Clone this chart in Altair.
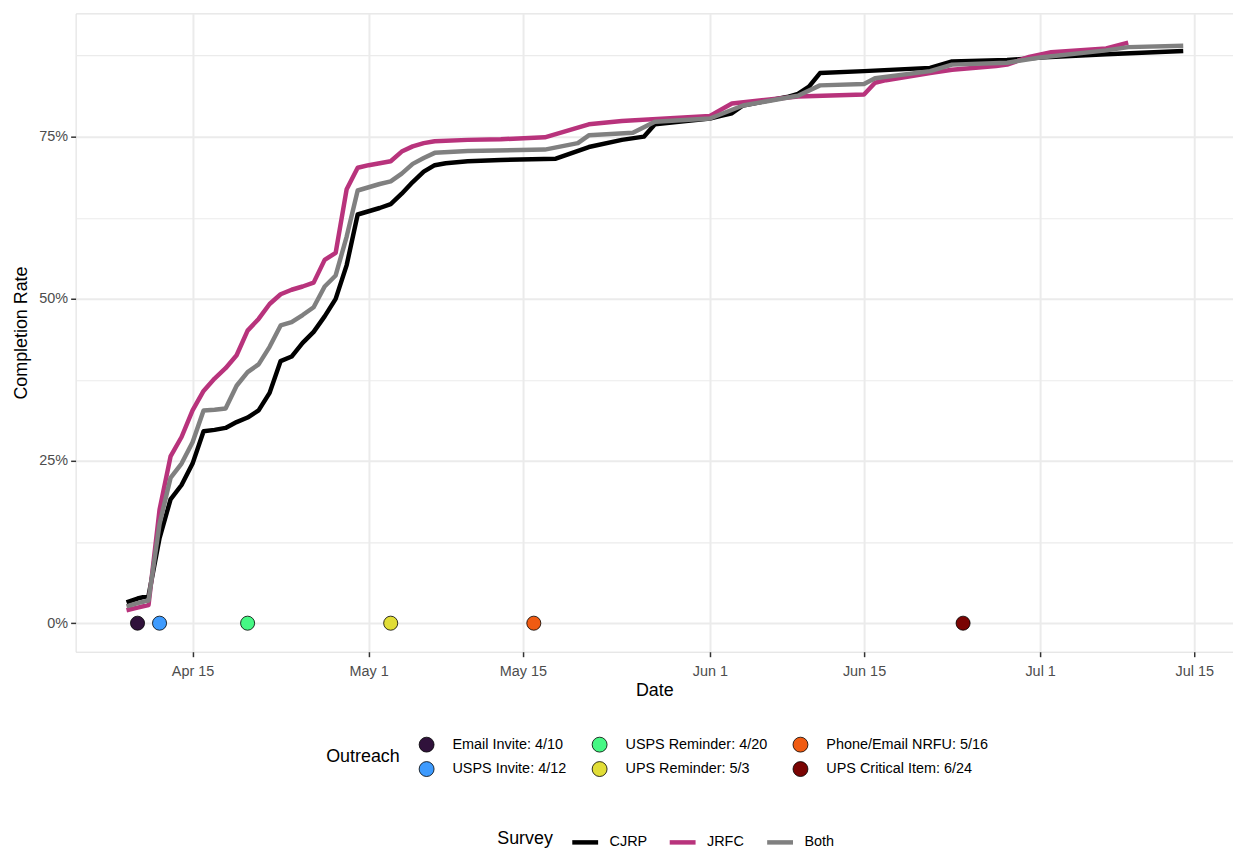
import altair as alt
import pandas as pd

# ---------------- data ----------------
cjrp_dates = ["2021-04-09", "2021-04-10", "2021-04-11", "2021-04-12", "2021-04-13", "2021-04-14",
              "2021-04-15", "2021-04-16", "2021-04-17", "2021-04-18", "2021-04-19", "2021-04-20",
              "2021-04-21", "2021-04-22", "2021-04-23", "2021-04-24", "2021-04-25", "2021-04-26",
              "2021-04-27", "2021-04-28", "2021-04-29", "2021-04-30", "2021-05-01", "2021-05-02",
              "2021-05-03", "2021-05-04", "2021-05-05", "2021-05-06", "2021-05-07", "2021-05-08",
              "2021-05-10", "2021-05-13", "2021-05-18", "2021-05-21", "2021-05-24", "2021-05-26",
              "2021-05-27", "2021-06-01", "2021-06-02", "2021-06-03", "2021-06-04", "2021-06-08",
              "2021-06-09", "2021-06-10", "2021-06-11", "2021-06-15", "2021-06-21", "2021-06-23",
              "2021-06-28", "2021-07-01", "2021-07-07", "2021-07-14"]
cjrp_vals = [3.2, 3.8, 4.2, 13.1, 19.1, 21.3,
             24.6, 29.6, 29.8, 30.1, 31.0, 31.7,
             32.8, 35.5, 40.4, 41.1, 43.2, 44.9,
             47.3, 50.0, 55.2, 63.0, 63.5, 64.0,
             64.6, 66.2, 68.0, 69.6, 70.6, 70.9,
             71.2, 71.4, 71.6, 73.4, 74.5, 75.0,
             76.9, 77.8, 78.2, 78.6, 79.8, 81.1,
             81.6, 82.7, 84.8, 85.1, 85.6, 86.6,
             86.8, 87.2, 87.7, 88.2]

jrfc_dates = ["2021-04-09", "2021-04-10", "2021-04-11", "2021-04-12", "2021-04-13", "2021-04-14",
              "2021-04-15", "2021-04-16", "2021-04-17", "2021-04-18", "2021-04-19", "2021-04-20",
              "2021-04-21", "2021-04-22", "2021-04-23", "2021-04-24", "2021-04-25", "2021-04-26",
              "2021-04-27", "2021-04-28", "2021-04-29", "2021-04-30", "2021-05-01", "2021-05-02",
              "2021-05-03", "2021-05-04", "2021-05-05", "2021-05-06", "2021-05-07", "2021-05-10",
              "2021-05-13", "2021-05-17", "2021-05-21", "2021-05-24", "2021-06-01", "2021-06-03",
              "2021-06-09", "2021-06-15", "2021-06-16", "2021-06-17", "2021-06-21", "2021-06-23",
              "2021-06-27", "2021-06-28", "2021-06-30", "2021-07-02", "2021-07-07", "2021-07-09"]
jrfc_vals = [2.0, 2.4, 2.8, 17.5, 25.7, 28.7,
             32.8, 35.8, 37.7, 39.3, 41.3, 45.1,
             46.9, 49.2, 50.7, 51.4, 51.9, 52.5,
             56.0, 57.1, 66.9, 70.2, 70.6, 70.9,
             71.2, 72.7, 73.5, 74.0, 74.3, 74.5,
             74.6, 74.9, 76.9, 77.4, 78.2, 80.1,
             81.2, 81.5, 83.3, 83.7, 84.8, 85.3,
             85.9, 86.1, 87.3, 88.0, 88.6, 89.5]

both_dates = ["2021-04-09", "2021-04-10", "2021-04-11", "2021-04-12", "2021-04-13", "2021-04-14",
              "2021-04-15", "2021-04-16", "2021-04-17", "2021-04-18", "2021-04-19", "2021-04-20",
              "2021-04-21", "2021-04-22", "2021-04-23", "2021-04-24", "2021-04-25", "2021-04-26",
              "2021-04-27", "2021-04-28", "2021-04-29", "2021-04-30", "2021-05-01", "2021-05-02",
              "2021-05-03", "2021-05-04", "2021-05-05", "2021-05-06", "2021-05-07", "2021-05-10",
              "2021-05-17", "2021-05-20", "2021-05-21", "2021-05-25", "2021-05-27", "2021-06-01",
              "2021-06-04", "2021-06-09", "2021-06-11", "2021-06-15", "2021-06-16", "2021-06-21",
              "2021-06-23", "2021-06-28", "2021-07-01", "2021-07-07", "2021-07-09", "2021-07-14"]
both_vals = [2.6, 3.1, 3.5, 15.3, 22.4, 24.6,
             27.9, 32.8, 32.9, 33.1, 36.6, 38.7,
             39.9, 42.6, 45.9, 46.4, 47.5, 48.7,
             51.9, 53.6, 59.6, 66.7, 67.2, 67.7,
             68.1, 69.3, 70.8, 71.7, 72.5, 72.8,
             73.0, 74.0, 75.2, 75.6, 77.3, 77.8,
             79.8, 81.3, 82.9, 83.1, 84.0, 85.1,
             86.1, 86.4, 87.2, 88.3, 88.8, 89.0]

survey_names = ["CJRP", "JRFC", "Both"]
survey_colors = ["#000000", "#b8337c", "#808080"]

outreach_labels = ["Email Invite: 4/10", "USPS Invite: 4/12", "USPS Reminder: 4/20",
                   "UPS Reminder: 5/3", "Phone/Email NRFU: 5/16", "UPS Critical Item: 6/24"]
outreach_dates = ["2021-04-10", "2021-04-12", "2021-04-20", "2021-05-03", "2021-05-16", "2021-06-24"]
outreach_rate = [0, 0, 0, 0, 0, 0]
outreach_colors = ["#30123B", "#3E9BFE", "#46F884", "#E1DD37", "#F05B12", "#7A0403"]
legend_order = [0, 2, 4, 1, 3, 5]  # column-major layout in a 3-column legend

x_ticks = [(4, 15), (5, 1), (5, 15), (6, 1), (6, 15), (7, 1), (7, 15)]
y_ticks = [0, 12.5, 25, 37.5, 50, 62.5, 75, 87.5]

# ---------------- tables ----------------
rows = []
for name, ds, vs in zip(survey_names, [cjrp_dates, jrfc_dates, both_dates], [cjrp_vals, jrfc_vals, both_vals]):
    for d, v in zip(ds, vs):
        rows.append({"survey": name, "date": pd.Timestamp(d), "rate": v})
df_lines = pd.DataFrame(rows)

df_out = pd.DataFrame({
    "label": outreach_labels,
    "date": [pd.Timestamp(d) for d in outreach_dates],
    "rate": outreach_rate,
})

FONT = "Liberation Sans"

x_scale = alt.Scale(domain=[alt.DateTime(year=2021, month=4, date=4, hours=9),
                            alt.DateTime(year=2021, month=7, date=18, hours=12, minutes=30)])
y_scale = alt.Scale(domain=[-4.4, 94.0], nice=False, zero=False)

x_axis = alt.Axis(
    values=[alt.DateTime(year=2021, month=m, date=d) for m, d in x_ticks],
    format="%b %-d", title="Date",
    labelFontSize=14.5, labelColor="#4d4d4d", labelPadding=8, labelFont=FONT,
    tickColor="#333333", tickSize=5, tickWidth=1.5, domain=False,
    grid=True, gridColor="#ebebeb", gridWidth=2,
    titleFontSize=18, titleFontWeight="normal", titleColor="#000000", titlePadding=4, titleFont=FONT,
)
y_axis = alt.Axis(
    values=y_ticks, title="Completion Rate",
    labelExpr="datum.value % 25 == 0 ? datum.value + '%' : ''",
    labelFontSize=14.5, labelColor="#4d4d4d", labelPadding=3, labelFont=FONT,
    tickColor="#333333", tickSize=5, tickWidth=1.5, domain=False,
    tickOpacity={"condition": {"test": "datum.value % 25 == 0", "value": 1}, "value": 0},
    grid=True, gridColor="#ebebeb",
    gridWidth={"condition": {"test": "datum.value % 25 == 0", "value": 2}, "value": 1.1},
    titleFontSize=18, titleFontWeight="normal", titleColor="#000000", titlePadding=8, titleFont=FONT,
)

lines = alt.Chart(df_lines).mark_line(strokeWidth=4.5, strokeJoin="round", strokeCap="butt").encode(
    x=alt.X("date:T", scale=x_scale, axis=x_axis),
    y=alt.Y("rate:Q", scale=y_scale, axis=y_axis),
    color=alt.Color("survey:N",
                    scale=alt.Scale(domain=survey_names, range=survey_colors),
                    legend=alt.Legend(
                        title="Survey", orient="none", legendX=424, legendY=818,
                        direction="horizontal", titleOrient="left", titleAnchor="middle",
                        titleBaseline="middle",
                        symbolType="stroke", symbolSize=676, symbolStrokeWidth=4.5,
                        labelFontSize=14.5, labelFont=FONT, labelColor="#000000", labelLimit=300,
                        titleFontSize=18, titleFont=FONT, titleFontWeight="normal", titleColor="#000000",
                        titlePadding=16, labelOffset=9, columnPadding=13, padding=0,
                    )),
    order=alt.Order("date:T"),
)

points = alt.Chart(df_out).mark_circle(size=200, opacity=1, stroke="#000000", strokeWidth=0.8).encode(
    x=alt.X("date:T", scale=x_scale),
    y=alt.Y("rate:Q", scale=y_scale),
    fill=alt.Fill("label:N",
                  scale=alt.Scale(domain=[outreach_labels[i] for i in legend_order],
                                  range=[outreach_colors[i] for i in legend_order]),
                  legend=alt.Legend(
                      title="Outreach", orient="none", legendX=252, legendY=727,
                      columns=3, direction="horizontal", titleOrient="left", titleAnchor="middle",
                      symbolType="circle", symbolSize=225, symbolStrokeColor="#000000",
                      symbolStrokeWidth=0.8, symbolOpacity=1,
                      labelFontSize=14.5, labelFont=FONT, labelColor="#000000", labelLimit=300,
                      titleFontSize=18, titleFont=FONT, titleFontWeight="normal", titleColor="#000000",
                      titlePadding=18, labelOffset=18, columnPadding=23, rowPadding=5, padding=0,
                  )),
)

chart = alt.layer(lines, points).resolve_scale(color="independent").properties(
    width=1164, height=642,
    autosize=alt.AutoSizeParams(type="none"),
    padding={"left": 68, "top": 3, "right": 0, "bottom": 198},
).configure_view(stroke="#444444", strokeWidth=1.8).configure(font=FONT)

chart.save("out.html", embed_options={"renderer": "svg", "actions": False})
